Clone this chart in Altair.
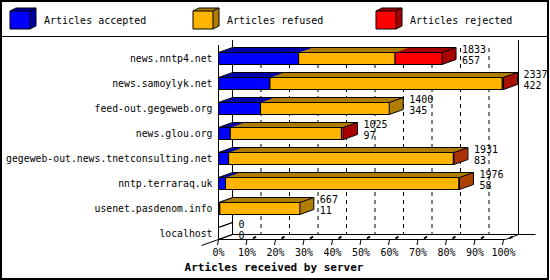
import altair as alt
import pandas as pd

# ---------------- data ----------------
servers = [
    "news.nntp4.net",
    "news.samoylyk.net",
    "feed-out.gegeweb.org",
    "news.glou.org",
    "gegeweb-out.news.tnetconsulting.net",
    "nntp.terraraq.uk",
    "usenet.pasdenom.info",
    "localhost",
]
accepted = [657, 422, 345, 97, 83, 58, 11, 0]
refused = [791, 1905, 1055, 911, 1843, 1914, 656, 0]
rejected = [385, 10, 0, 17, 5, 4, 0, 0]
series_names = ["Articles accepted", "Articles refused", "Articles rejected"]
front_colors = ["#0000ff", "#ffb400", "#ff0000"]
side_colors = ["#0000a8", "#b07e00", "#a80000"]
pct_ticks = list(range(0, 101, 10))
x_title = "Articles received by server"

# ---------------- layout ----------------
W, H = 285, 200
PAD_L, PAD_T = 218.5, 39.5
ROW = 25
Y_MIN = -19 / ROW
Y_MAX = Y_MIN + H / ROW
DX, DY = 14, 5
HALF = 6 / ROW
XU = 100 / W
FONT = "DejaVu Sans Mono"


def px2x(p):
    return (p - PAD_L) * XU


def px2y(p):
    return (p - PAD_T) / ROW + Y_MIN


def xo(pct, off):
    return pct + off * XU


totals = [a + r + j for a, r, j in zip(accepted, refused, rejected)]
tmax = max(totals)


def pct(v):
    return v / tmax * 100


segs, boxes = [], []
for i, s in enumerate(servers):
    vals = [accepted[i], refused[i], rejected[i]]
    start = 0
    for j, v in enumerate(vals):
        if v > 0:
            segs.append(dict(x0=pct(start), x1=pct(start + v), y0=i - HALF, y1=i + HALF,
                             front=front_colors[j], side=side_colors[j]))
        start += v
    boxes.append(dict(x0=0.0, x1=pct(totals[i]), y0=i - HALF, y1=i + HALF))

leg_segs, leg_boxes, leg_text = [], [], []
for j, name in enumerate(series_names):
    bx = 10 + 183 * j
    d = dict(x0=px2x(bx), x1=px2x(bx + 20), y0=px2y(11), y1=px2y(29),
             front=front_colors[j], side=side_colors[j])
    leg_segs.append(d)
    leg_boxes.append(dict(x0=d["x0"], x1=d["x1"], y0=d["y0"], y1=d["y1"]))
    leg_text.append(dict(x=px2x(bx + 34), y=px2y(21), t=name))


def extrude(items, dx, dy):
    out = []
    for k in range(dx, 0, -1):
        for s in items:
            out.append(dict(x0=s["x0"] + k * XU, x1=s["x1"] + k * XU,
                            y0=s["y0"] - k * dy / dx / ROW, y1=s["y1"] - k * dy / dx / ROW,
                            side=s["side"]))
    return out


def edges(bxs, dx, dy):
    ox, oy = dx * XU, dy / ROW
    out = []
    for b in bxs:
        x0, x1, y0, y1 = b["x0"], b["x1"], b["y0"], b["y1"]
        out += [
            dict(x0=x0 + ox, y0=y0 - oy, x1=x1 + ox, y1=y0 - oy),
            dict(x0=x1 + ox, y0=y0 - oy, x1=x1 + ox, y1=y1 - oy),
            dict(x0=x0, y0=y0, x1=x0 + ox, y1=y0 - oy),
            dict(x0=x1, y0=y0, x1=x1 + ox, y1=y0 - oy),
            dict(x0=x1, y0=y1, x1=x1 + ox, y1=y1 - oy),
        ]
    return out


ext_df = pd.DataFrame(extrude(segs, DX, DY) + extrude(leg_segs, 6, 3))
front_df = pd.DataFrame(segs + leg_segs)
edge_df = pd.DataFrame(edges(boxes, DX, DY) + edges(leg_boxes, 6, 3))

# decoration lines (walls / floor)
deco = [
    dict(x0=xo(0, DX), y0=px2y(40), x1=xo(0, DX), y1=px2y(234.5)),
    dict(x0=xo(100, DX + 1), y0=px2y(40), x1=xo(100, DX + 1), y1=px2y(234.5)),
    dict(x0=0, y0=px2y(45), x1=0, y1=px2y(239.5)),
    dict(x0=0, y0=px2y(239.5), x1=xo(100, 2), y1=px2y(239.5)),
    dict(x0=xo(100, 2), y0=px2y(239.5), x1=xo(100, DX + 1), y1=px2y(234.5)),
    dict(x0=xo(0, DX), y0=px2y(234.5), x1=xo(100, 32), y1=px2y(234.5)),
    dict(x0=xo(0, -17), y0=px2y(245.5), x1=xo(0, DX), y1=px2y(234.5)),
    dict(x0=px2x(0), y0=px2y(36.5), x1=px2x(548), y1=px2y(36.5)),
]
for p in pct_ticks:
    deco.append(dict(x0=p, y0=px2y(239.5), x1=xo(p, -1), y1=px2y(245)))
deco_df = pd.DataFrame(deco)

marks_df = pd.DataFrame([dict(x0=xo(p, 6), y0=px2y(238.5), x1=xo(p, 9), y1=px2y(236.5))
                         for p in pct_ticks[1:]])
grid_df = pd.DataFrame([dict(x0=xo(p, DX), y0=px2y(48), x1=xo(p, DX), y1=px2y(234.5))
                        for p in pct_ticks[1:-1]])
frame_df = pd.DataFrame([dict(x0=px2x(1), x1=px2x(548), y0=px2y(1), y1=px2y(279))])

lab_df = pd.DataFrame(dict(x=[xo(0, -6)] * len(servers), y=list(range(len(servers))), t=servers))
val_df = pd.DataFrame(
    [dict(x=xo(b["x1"], DX + 6), y=i - 9 / ROW, t=str(totals[i])) for i, b in enumerate(boxes)]
    + [dict(x=xo(b["x1"], DX + 6), y=i + 2 / ROW, t=str(accepted[i])) for i, b in enumerate(boxes)]
)
tick_df = pd.DataFrame(dict(x=pct_ticks, y=[px2y(253)] * len(pct_ticks), t=[f"{p}%" for p in pct_ticks]))
title_df = pd.DataFrame([dict(x=px2x(274), y=px2y(268), t=x_title)])
leg_df = pd.DataFrame(leg_text)

XS = alt.Scale(domain=[0, 100], nice=False, zero=False)
YS = alt.Scale(domain=[Y_MIN, Y_MAX], reverse=True, nice=False, zero=False)


def X(f):
    return alt.X(f, type="quantitative", scale=XS, axis=None)


def Y(f):
    return alt.Y(f, type="quantitative", scale=YS, axis=None)


def rules(df, **kw):
    return alt.Chart(df).mark_rule(color="black", **kw).encode(
        x=X("x0"), x2="x1", y=Y("y0"), y2="y1")


def texts(df, **kw):
    return alt.Chart(df).mark_text(font=FONT, color="black", **kw).encode(
        x=X("x"), y=Y("y"), text="t:N")


frame = alt.Chart(frame_df).mark_rect(fill="transparent", stroke="black", strokeWidth=2).encode(
    x=X("x0"), x2="x1", y=Y("y0"), y2="y1")
grid = rules(grid_df, strokeDash=[4, 4], strokeWidth=1)
deco_l = rules(deco_df, strokeWidth=1)
floor_marks = rules(marks_df, strokeWidth=2)
ext = alt.Chart(ext_df).mark_rect().encode(
    x=X("x0"), x2="x1", y=Y("y0"), y2="y1", color=alt.Color("side:N", scale=None))
fronts = alt.Chart(front_df).mark_rect(stroke="black", strokeWidth=1).encode(
    x=X("x0"), x2="x1", y=Y("y0"), y2="y1", color=alt.Color("front:N", scale=None))
edge_l = rules(edge_df, strokeWidth=1)

chart = alt.layer(
    frame, grid, deco_l, floor_marks, ext, fronts, edge_l,
    texts(lab_df, align="right", baseline="middle", fontSize=9.8),
    texts(val_df, align="left", baseline="middle", fontSize=10),
    texts(tick_df, align="center", baseline="middle", fontSize=10),
    texts(title_df, align="center", baseline="middle", fontSize=11, fontWeight="bold"),
    texts(leg_df, align="left", baseline="middle", fontSize=10),
).properties(
    width=W, height=H,
    autosize="none",
    padding={"left": PAD_L, "top": PAD_T, "right": 550 - PAD_L - W, "bottom": 280 - PAD_T - H},
    background="white",
).configure_view(stroke=None)

chart.save("out.html", embed_options={"renderer": "svg", "actions": False})
